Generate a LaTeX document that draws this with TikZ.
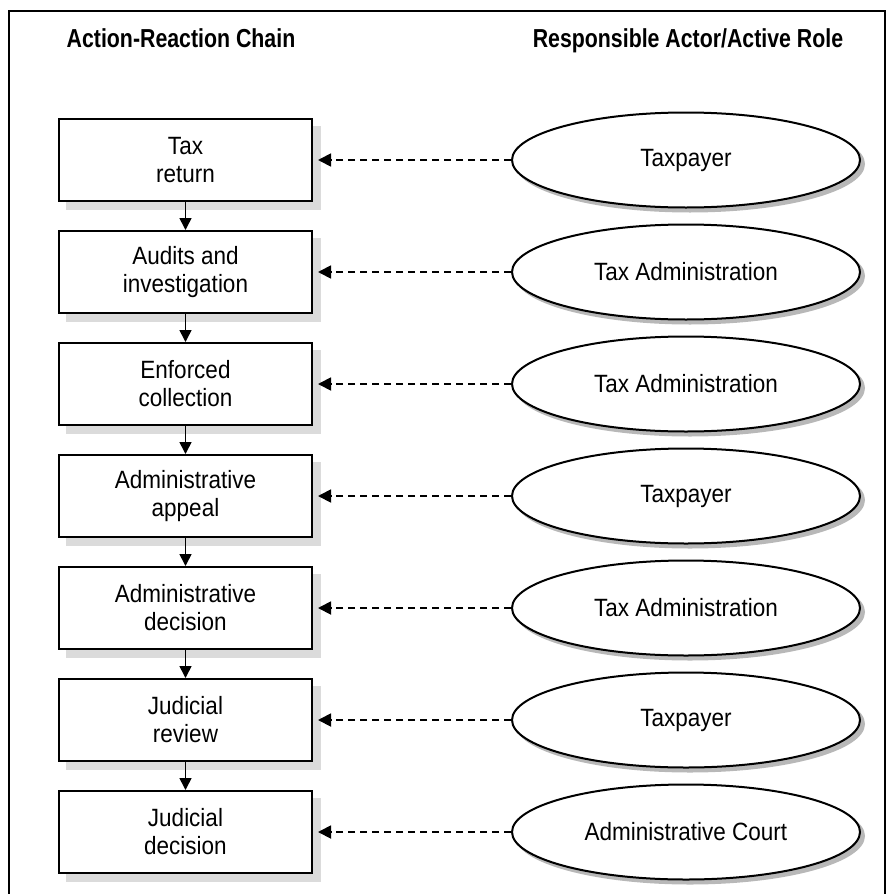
\documentclass[tikz,border=0pt]{standalone}
\usepackage{fontspec}
\setmainfont[FakeStretch=0.82]{Liberation Sans}
\newfontfamily\bodyfont[FakeStretch=0.9]{Liberation Sans}
\usetikzlibrary{shapes.geometric,arrows.meta}
\pgfdeclarelayer{shade}
\pgfsetlayers{shade,main}

\begin{document}
\begin{tikzpicture}[
  x=1pt,y=-1pt,
  chainbox/.style={draw,line width=2pt,fill=white,
    minimum width=253pt,minimum height=82pt,align=center,
    font=\bodyfont\fontsize{25}{28}\selectfont},
  actor/.style={ellipse,draw,line width=2pt,fill=white,
    minimum width=348pt,minimum height=95pt,
    font=\bodyfont\fontsize{25}{28}\selectfont},
  boxshade/.style={fill=black!14},
  actorshade/.style={fill=black!28},
  header/.style={font=\fontsize{26}{30}\selectfont\bfseries,anchor=base},
  flow/.style={-{Triangle[length=12pt,width=12pt]},line width=1.6pt},
  link/.style={-{Triangle[length=13pt,width=13pt]},line width=1.8pt,
    dash pattern=on 7pt off 5pt,shorten >=5pt}
]
\useasboundingbox (0,0) rectangle (887,894);
\draw[line width=2pt] (9,11) rectangle (885,910);

\node[header] (chainhead) at (181,47) {Action-Reaction Chain};
\node[header] (rolehead) at (688,47) {Responsible Actor/Active Role};

\foreach[evaluate=\i as \y using {48+112*\i}] \i/\act/\who in {
  1/{Tax\\return}/Taxpayer,
  2/{Audits and\\investigation}/Tax Administration,
  3/{Enforced\\collection}/Tax Administration,
  4/{Administrative\\appeal}/Taxpayer,
  5/{Administrative\\decision}/Tax Administration,
  6/{Judicial\\review}/Taxpayer,
  7/{Judicial\\decision}/Administrative Court}
{
  \node[chainbox] (b\i) at (185.5,\y) {\act};
  \node[actor] (a\i) at (686,\y) {\who};
  % shadows behind the shapes
  \begin{pgfonlayer}{shade}
    \fill[boxshade] ([shift={(8,8)}]b\i.south west) rectangle ([shift={(8,8)}]b\i.north east);
    \fill[actorshade] ([shift={(4,4)}]a\i.center) ellipse (175 and 48.5);
  \end{pgfonlayer}
}

\foreach \i in {1,...,7}
  \draw[link] (a\i) -- (b\i);
\foreach[evaluate=\i as \j using int(\i+1)] \i in {1,...,6}
  \draw[flow] (b\i) -- (b\j);
\end{tikzpicture}
\end{document}
